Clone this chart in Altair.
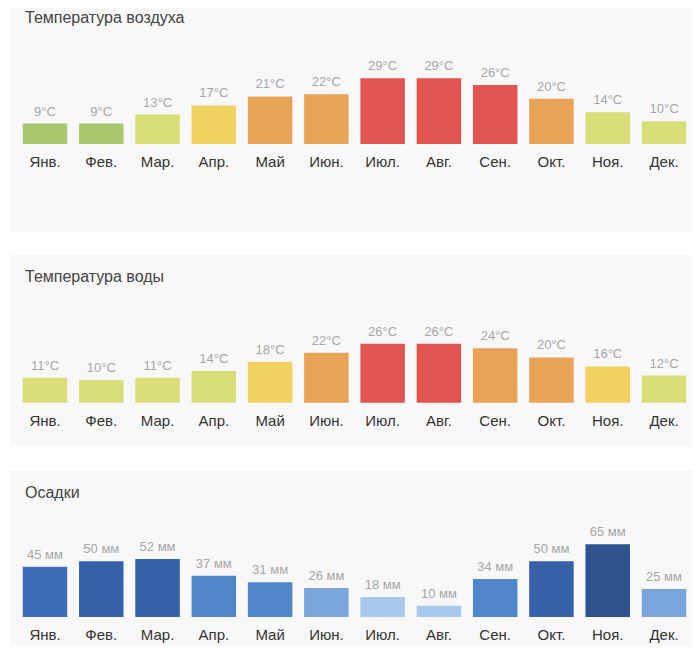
import altair as alt
import pandas as pd

months = ["Янв.", "Фев.", "Мар.", "Апр.", "Май", "Июн.", "Июл.", "Авг.", "Сен.", "Окт.", "Ноя.", "Дек."]
air_temp = [9, 9, 13, 17, 21, 22, 29, 29, 26, 20, 14, 10]
water_temp = [11, 10, 11, 14, 18, 22, 26, 26, 24, 20, 16, 12]
precip = [45, 50, 52, 37, 31, 26, 18, 10, 34, 50, 65, 25]

titles = ["Температура воздуха", "Температура воды", "Осадки"]

temp_thresholds = [10, 16, 20, 26]
temp_colors = ["#a9c76f", "#d8de78", "#f2d160", "#e9a356", "#e05550"]
rain_thresholds = [20, 30, 40, 48, 60]
rain_colors = ["#a8c8ee", "#79a6da", "#4f85c9", "#3e6cb8", "#3660a8", "#2f538e"]

FONT = "Liberation Sans"
W = 682


def panel(values, unit, title, height, ydomain, thresholds, colors, title_y):
    df = pd.DataFrame({"month": months, "value": values})
    df["label"] = [f"{v}{unit}" for v in values]
    x = alt.X("month:N", sort=months, axis=None,
              scale=alt.Scale(range=[0, 689], paddingInner=0.209, paddingOuter=0.2266))
    yscale = alt.Scale(domain=ydomain, nice=False, zero=False)
    base = alt.Chart(df)
    bars = base.mark_bar().encode(
        x=x,
        y=alt.Y("value:Q", scale=yscale, axis=None),
        y2=alt.datum(0),
        color=alt.Color("value:Q", scale=alt.Scale(type="threshold", domain=thresholds, range=colors), legend=None),
    )
    vals = base.mark_text(font=FONT, fontSize=13, color="#a6a6a6", baseline="middle", dy=-12).encode(
        x=x, y=alt.Y("value:Q", scale=yscale, axis=None), text="label:N"
    )
    mlabels = base.mark_text(font=FONT, fontSize=15, color="#333333", baseline="middle", dy=18).encode(
        x=x, y=alt.datum(0), text="month:N"
    )
    ttl = alt.Chart(pd.DataFrame({"t": [title]})).mark_text(
        font=FONT, fontSize=16, color="#444444", align="left", baseline="middle"
    ).encode(text="t:N", x=alt.value(15), y=alt.value(title_y))
    return alt.layer(bars, vals, mlabels, ttl).properties(width=W, height=height)


p1 = panel(air_temp, "°C", titles[0], 224, [-38.83, 60.02], temp_thresholds, temp_colors, 10)
p2 = panel(water_temp, "°C", titles[1], 192, [-19.55, 65.18], temp_thresholds, temp_colors, 22)
p3 = panel(precip, " мм", titles[2], 177, [-26.8, 131.5], rain_thresholds, rain_colors, 23)

chart = alt.vconcat(p1, p2, p3, spacing=23).resolve_scale(
    x="independent", y="independent", color="independent"
).properties(
    padding={"left": 2, "top": 0, "right": 0, "bottom": 0},
    background="white",
).configure_view(fill="#f8f8f8", stroke=None)

chart.save("out.html", embed_options={"renderer": "svg", "actions": False})
